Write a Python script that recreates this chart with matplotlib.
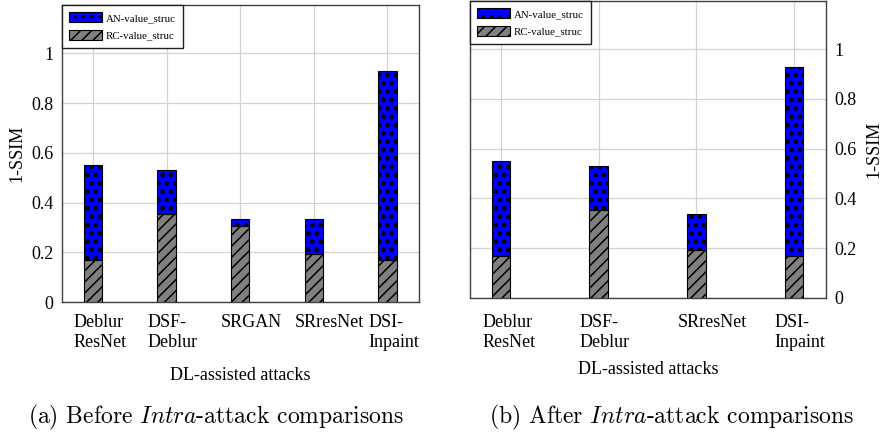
import numpy as np
import matplotlib as mpl
import matplotlib.pyplot as plt
from matplotlib.patches import Patch
from matplotlib.transforms import ScaledTranslation, blended_transform_factory

plt.rcParams["font.family"] = "Liberation Serif"
plt.rcParams["mathtext.fontset"] = "cm"

# (a) before intra-attack comparisons
attacks_a = ["Deblur\nResNet", "DSF-\nDeblur", "SRGAN", "SRresNet", "DSI-\nInpaint"]
rc_a = [0.169, 0.353, 0.306, 0.192, 0.170]
an_a = [0.550, 0.530, 0.334, 0.334, 0.930]

# (b) after intra-attack comparisons
attacks_b = ["Deblur\nResNet", "DSF-\nDeblur", "SRresNet", "DSI-\nInpaint"]
rc_b = [0.169, 0.353, 0.192, 0.170]
an_b = [0.550, 0.531, 0.336, 0.930]

yticks = [0, 0.2, 0.4, 0.6, 0.8, 1]

BLUE = "#0000ff"
GRAY = "#808080"
DOTS = ".."
LINES = "///"
DOT_LW = 2.2
LINE_LW = 1.1


def px(fig, dx, dy):
    return ScaledTranslation(dx / fig.dpi, dy / fig.dpi, fig.dpi_scale_trans)


def draw_panel(ax, labels, rc, an, width, xlim, lab_dy, xlab_dy, right=False):
    fig = ax.figure
    x = np.arange(len(labels))
    rc = np.array(rc)
    an = np.array(an)
    mpl.rcParams["hatch.linewidth"] = LINE_LW
    ax.bar(x, rc, width, color=GRAY, edgecolor="black", hatch=LINES,
           linewidth=0.8, zorder=3)
    mpl.rcParams["hatch.linewidth"] = DOT_LW
    ax.bar(x, an - rc, width, bottom=rc, color=BLUE, edgecolor="black",
           hatch=DOTS, linewidth=0.8, zorder=3)

    ax.set_xlim(*xlim)
    ax.set_ylim(0, 1.194)
    ax.set_yticks(yticks)
    ax.set_yticklabels([f"{t:g}" for t in yticks])
    ax.set_xticks(x)
    ax.set_xticklabels([])

    # tick labels: left-aligned blocks slightly left of the tick
    trans = blended_transform_factory(ax.transData, ax.transAxes)
    for xi, lab in zip(x, labels):
        ax.text(xi, 0, lab, transform=trans + px(fig, -19, -lab_dy),
                ha="left", va="top", multialignment="left", fontsize=13,
                linespacing=1.22, clip_on=False)
    ax.text(0.5, 0, "DL-assisted attacks", transform=ax.transAxes + px(fig, 0, -xlab_dy),
            ha="center", va="center", fontsize=13)

    ax.grid(True, color="#d3d3d3", linewidth=0.9, zorder=0)
    ax.set_axisbelow(True)
    for s in ax.spines.values():
        s.set_color("#404040")
        s.set_linewidth(1.0)
    ax.tick_params(axis="both", length=0, labelsize=13, pad=6)

    if right:
        ax.yaxis.tick_right()
        ax.yaxis.set_label_position("right")
        ax.set_ylabel("1-SSIM", fontsize=13, labelpad=6)
    else:
        ax.set_ylabel("1-SSIM", fontsize=13, labelpad=4.5)

    mpl.rcParams["hatch.linewidth"] = DOT_LW
    h_an = Patch(facecolor=BLUE, edgecolor="black", hatch=DOTS, linewidth=0.8)
    mpl.rcParams["hatch.linewidth"] = LINE_LW
    h_rc = Patch(facecolor=GRAY, edgecolor="black", hatch=LINES, linewidth=0.8)
    leg = ax.legend([h_an, h_rc], ["AN-value_struc", "RC-value_struc"],
                    loc="upper left", bbox_to_anchor=(0, 1), borderaxespad=0,
                    fontsize=7.8, handlelength=3.0, handleheight=1.05,
                    handletextpad=0.4, labelspacing=0.65, borderpad=0.65,
                    fancybox=False, framealpha=1)
    leg.get_frame().set_edgecolor("#202020")
    leg.get_frame().set_linewidth(1.0)
    leg.set_zorder(5)


fig = plt.figure(figsize=(8.84, 4.32), dpi=100)
ax1 = fig.add_axes([0.0701, 0.3009, 0.4039, 0.6875])
ax2 = fig.add_axes([0.5317, 0.3102, 0.4027, 0.6875])

draw_panel(ax1, attacks_a, rc_a, an_a, 0.25, (-0.42, 4.43), 12, 73)
draw_panel(ax2, attacks_b, rc_b, an_b, 0.19, (-0.32, 3.33), 16, 72, right=True)

fig.text(0.2443, 0.034, r"(a) Before $\mathit{Intra}$-attack comparisons",
         family="cmr10", fontsize=17, ha="center", va="center")
fig.text(0.7602, 0.034, r"(b) After $\mathit{Intra}$-attack comparisons",
         family="cmr10", fontsize=17, ha="center", va="center")

fig.savefig("out.png", dpi=100)
